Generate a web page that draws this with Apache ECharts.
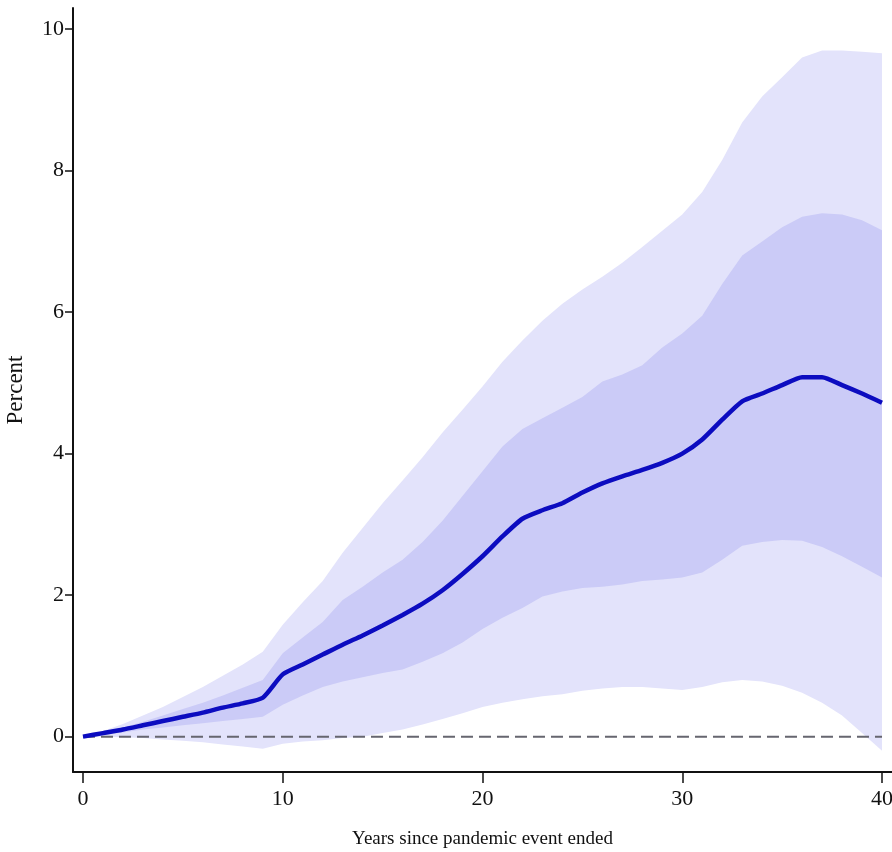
<!DOCTYPE html>
<html>
<head>
<meta charset="utf-8">
<script src="https://cdn.jsdelivr.net/npm/echarts@6/dist/echarts.min.js"></script>
<style>
html, body { margin: 0; padding: 0; background: #ffffff; }
#container { width: 892px; height: 852px; }
</style>
</head>
<body>
<div id="container"></div>
<script>
var years = [0,1,2,3,4,5,6,7,8,9,10,11,12,13,14,15,16,17,18,19,20,
             21,22,23,24,25,26,27,28,29,30,31,32,33,34,35,36,37,38,39,40];
var median = [0,0.05,0.1,0.16,0.22,0.28,0.34,0.41,0.47,0.55,0.88,1.02,1.16,1.3,1.43,1.57,1.72,1.88,2.07,2.3,2.55,
              2.83,3.08,3.2,3.3,3.45,3.58,3.68,3.77,3.87,4.0,4.2,4.48,4.74,4.85,4.97,5.08,5.08,4.97,4.85,4.72];
var innerUpper = [0,0.06,0.13,0.21,0.3,0.39,0.48,0.58,0.69,0.8,1.18,1.4,1.62,1.93,2.12,2.32,2.5,2.75,3.05,3.4,3.75,
                  4.1,4.35,4.5,4.65,4.8,5.02,5.12,5.25,5.5,5.7,5.95,6.4,6.8,7.0,7.2,7.35,7.4,7.38,7.3,7.16];
var innerLower = [0,0.03,0.06,0.1,0.13,0.16,0.19,0.22,0.25,0.28,0.45,0.58,0.7,0.78,0.84,0.9,0.95,1.06,1.18,1.33,1.52,
                  1.68,1.82,1.98,2.05,2.1,2.12,2.15,2.2,2.22,2.25,2.32,2.5,2.7,2.75,2.78,2.77,2.68,2.55,2.4,2.25];
var outerUpper = [0,0.08,0.18,0.3,0.42,0.56,0.7,0.86,1.02,1.2,1.58,1.9,2.2,2.6,2.95,3.3,3.62,3.95,4.3,4.62,4.95,
                  5.3,5.6,5.88,6.12,6.32,6.5,6.7,6.92,7.15,7.38,7.7,8.15,8.68,9.05,9.32,9.6,9.7,9.7,9.68,9.66];
var outerLower = [0,0,-0.01,-0.02,-0.04,-0.06,-0.08,-0.11,-0.14,-0.17,-0.1,-0.07,-0.05,-0.02,0,0.05,0.1,0.17,0.25,0.33,0.42,
                  0.48,0.53,0.57,0.6,0.65,0.68,0.7,0.7,0.68,0.66,0.7,0.77,0.8,0.78,0.72,0.62,0.48,0.3,0.05,-0.2];
var xTicks = [0, 10, 20, 30, 40];
var yTicks = [0, 2, 4, 6, 8, 10];

var dom = document.getElementById("container");
var myChart = echarts.init(dom);
var font = 'Liberation Serif';

function band(upper, lower, color) {
    return {
        type: 'custom',
        silent: true,
        data: [[0, 0]],
        z: 1,
        renderItem: function (params, api) {
            var pts = [];
            for (var i = 0; i < years.length; i++) {
                pts.push(api.coord([years[i], upper[i]]));
            }
            for (var j = years.length - 1; j >= 0; j--) {
                pts.push(api.coord([years[j], lower[j]]));
            }
            return {
                type: 'polygon',
                shape: { points: pts },
                style: { fill: color }
            };
        }
    };
}

var option = {
    animation: false,
    backgroundColor: '#ffffff',
    grid: { left: 73, right: 0, top: 8, bottom: 80, outerBoundsMode: 'none', containLabel: false },
    xAxis: {
        type: 'value',
        min: -0.5,
        max: 40.5,
        name: 'Years since pandemic event ended',
        nameLocation: 'middle',
        nameGap: 58,
        nameTextStyle: { fontFamily: font, fontSize: 19, color: '#111' },
        splitLine: { show: false },
        axisLine: { onZero: false, lineStyle: { color: '#111', width: 2 } },
        axisTick: { length: 11, customValues: xTicks, lineStyle: { color: '#111', width: 1.5 } },
        axisLabel: { customValues: xTicks, fontFamily: font, fontSize: 22, color: '#111', margin: 16 }
    },
    yAxis: {
        type: 'value',
        min: -0.5,
        max: 10.3,
        name: 'Percent',
        nameLocation: 'middle',
        nameGap: 46,
        nameTextStyle: { fontFamily: font, fontSize: 23, color: '#111' },
        splitLine: { show: false },
        axisLine: { onZero: false, lineStyle: { color: '#111', width: 2 } },
        axisTick: { length: 8, customValues: yTicks, lineStyle: { color: '#111', width: 1.5 } },
        axisLabel: { customValues: yTicks, fontFamily: font, fontSize: 22, color: '#111', margin: 9 }
    },
    series: [
        band(outerUpper, outerLower, '#e3e3fb'),
        band(innerUpper, innerLower, '#cbcbf7'),
        {
            type: 'line',
            data: [[0, 0], [40, 0]],
            showSymbol: false,
            silent: true,
            z: 3,
            lineStyle: { color: '#66666f', width: 2, type: [12, 6] }
        },
        {
            type: 'line',
            data: years.map(function (y, i) { return [y, median[i]]; }),
            showSymbol: false,
            smooth: 0.2,
            z: 4,
            lineStyle: { color: '#0c0cc0', width: 4.5 }
        }
    ]
};

myChart.setOption(option, true);
</script>
</body>
</html>
